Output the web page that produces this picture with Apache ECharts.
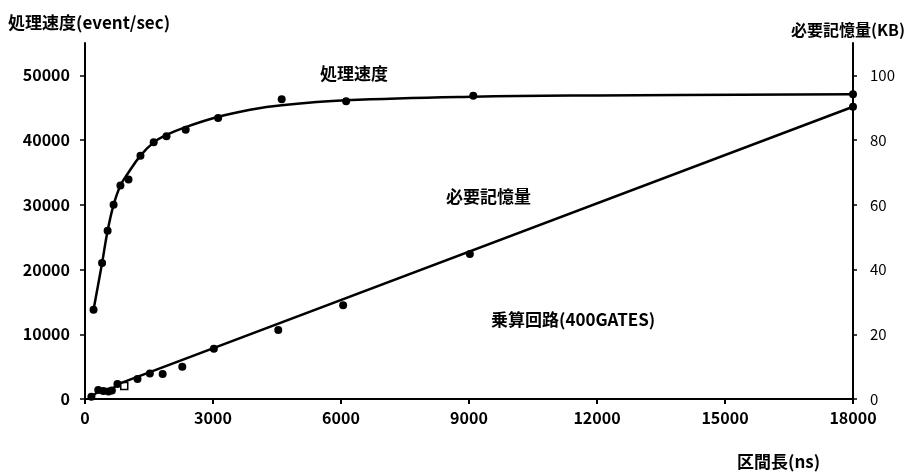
<!DOCTYPE html>
<html>
<head>
<meta charset="utf-8">
<script src="https://cdn.jsdelivr.net/npm/echarts@6/dist/echarts.min.js"></script>
<style>
html,body{margin:0;padding:0;background:#fff;}
#chart{width:907px;height:475px;}
</style>
</head>
<body>
<div id="chart"></div>
<script>
// X ticks (区間長 ns)
const xTicks = [0, 3000, 6000, 9000, 12000, 15000, 18000];
const leftTicks = [0, 10000, 20000, 30000, 40000, 50000];
const rightTicks = [0, 20, 40, 60, 80, 100];

// 処理速度 measured points
const speedX = [200, 400, 530, 670, 830, 1020, 1300, 1610, 1910, 2360, 3120, 4610, 6120, 9100, 18000];
const speedY = [13800, 21000, 26000, 30000, 33000, 33900, 37600, 39650, 40600, 41600, 43400, 46300, 46000, 46850, 47100];
// 処理速度 fitted curve
const speedCurveX = [200, 400, 530, 670, 830, 1000, 1300, 1610, 1910, 2360, 3120, 3870, 4610, 6120, 9100, 12000, 18000];
const speedCurveY = [13800, 21000, 26000, 30000, 33000, 34800, 37600, 39650, 40800, 42000, 43600, 44700, 45400, 46150, 46700, 46900, 47100];

// 必要記憶量 measured points (KB)
const memX = [150, 310, 430, 550, 630, 760, 920, 1230, 1520, 1820, 2280, 3020, 4530, 6050, 9020, 18000];
const memY = [0.7, 2.8, 2.5, 2.3, 2.6, 4.6, 4.0, 6.2, 7.9, 7.7, 10.0, 15.5, 21.3, 29.0, 44.8, 90.3];
// 必要記憶量 fitted line
const memCurveX = [90, 300, 620, 760, 18000];
const memCurveY = [0, 2.2, 2.8, 4.5, 90.3];

const pairs = (xs, ys) => xs.map((x, i) => [x, ys[i]]);

const chart = echarts.init(document.getElementById('chart'));
const FONT = '"Noto Sans CJK JP", "Noto Sans", sans-serif';
const axisLineStyle = { color: '#000', width: 2 };
const plain = v => String(v);

const memPoints = pairs(memX, memY).map((p, i) => {
  if (memX[i] === 920) {
    return { value: p, symbol: 'rect', symbolSize: 7, itemStyle: { color: '#fff', borderColor: '#000', borderWidth: 1.5, opacity: 1 } };
  }
  return p;
});

chart.setOption({
  animation: false,
  backgroundColor: '#fff',
  grid: { left: 85, right: 54, top: 43, bottom: 76 },
  xAxis: {
    type: 'value', min: 0, max: 18000, interval: 3000,
    axisLine: { lineStyle: axisLineStyle },
    axisTick: { show: true, length: 5, lineStyle: { color: '#000', width: 2 }, customValues: xTicks },
    axisLabel: { color: '#000', fontSize: 16, fontWeight: 600, fontFamily: FONT, margin: 11, customValues: xTicks, formatter: plain },
    splitLine: { show: false }
  },
  yAxis: [
    {
      type: 'value', min: 0, max: 55000, position: 'left',
      axisLine: { show: true, lineStyle: axisLineStyle },
      axisTick: { show: true, length: 5, lineStyle: { color: '#000', width: 1.5 }, customValues: leftTicks },
      axisLabel: { color: '#000', fontSize: 16, fontWeight: 'bold', fontFamily: FONT, margin: 15, customValues: leftTicks, formatter: plain },
      splitLine: { show: false }
    },
    {
      type: 'value', min: 0, max: 110, position: 'right',
      axisLine: { show: true, lineStyle: axisLineStyle },
      axisTick: { show: true, length: 4, lineStyle: { color: '#000', width: 1.5 }, customValues: rightTicks },
      axisLabel: { color: '#000', fontSize: 15, fontFamily: FONT, margin: 17, customValues: rightTicks, formatter: plain },
      splitLine: { show: false }
    }
  ],
  series: [
    {
      name: '処理速度曲線', type: 'line', yAxisIndex: 0, data: pairs(speedCurveX, speedCurveY),
      smooth: 0.4, showSymbol: false, lineStyle: { color: '#000', width: 2.5 }
    },
    {
      name: '処理速度', type: 'scatter', yAxisIndex: 0, data: pairs(speedX, speedY),
      symbol: 'circle', symbolSize: 8, itemStyle: { color: '#000', opacity: 1 }
    },
    {
      name: '必要記憶量線', type: 'line', yAxisIndex: 1, data: pairs(memCurveX, memCurveY),
      showSymbol: false, lineStyle: { color: '#000', width: 2.5 }
    },
    {
      name: '必要記憶量', type: 'scatter', yAxisIndex: 1, data: memPoints,
      symbol: 'circle', symbolSize: 8, itemStyle: { color: '#000', opacity: 1 }
    }
  ],
  graphic: [
    { type: 'text', left: 8, top: 14, style: { text: '処理速度(event/sec)', font: 'bold 17px ' + FONT, fill: '#000' } },
    { type: 'text', right: 2, top: 22, style: { text: '必要記憶量(KB)', font: 'bold 16px ' + FONT, fill: '#000' } },
    { type: 'text', left: 320, top: 65, style: { text: '処理速度', font: 'bold 17px ' + FONT, fill: '#000' } },
    { type: 'text', left: 446, top: 188, style: { text: '必要記憶量', font: 'bold 17px ' + FONT, fill: '#000' } },
    { type: 'text', left: 491, top: 311, style: { text: '乗算回路(400GATES)', font: 'bold 17px ' + FONT, fill: '#000' } },
    { type: 'text', left: 737, top: 453, style: { text: '区間長(ns)', font: 'bold 17px ' + FONT, fill: '#000' } }
  ]
});
</script>
</body>
</html>
